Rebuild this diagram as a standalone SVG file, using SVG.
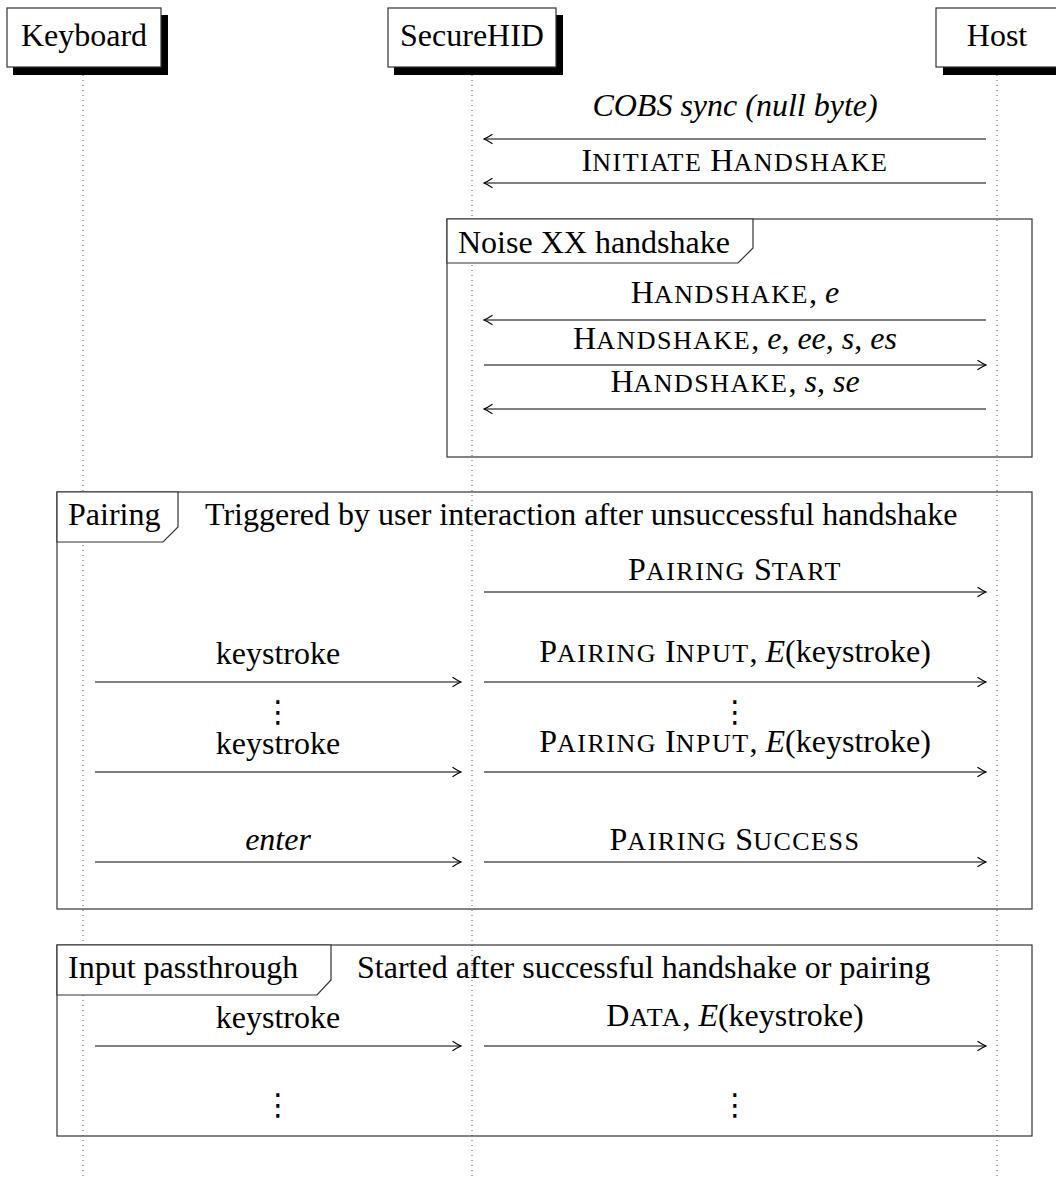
<svg xmlns="http://www.w3.org/2000/svg" width="1056" height="1177" viewBox="0 0 1056 1177">
<style>
  text { font-family: "Liberation Serif", "Times New Roman", serif; font-size: 32px; fill: #000; }
  .c { text-anchor: middle; }
  .it { font-style: italic; }
  .sc { font-variant: small-caps; }
  .lc { font-size: 37.1px; letter-spacing: 1.5px; }
  .box { fill: #fff; stroke: #333; stroke-width: 1.2; }
  .shadow { fill: #000; }
  .life { stroke: #555; stroke-width: 1; stroke-dasharray: 1 4; fill: none; }
  .frame { fill: none; stroke: #333; stroke-width: 1.2; }
  .flabel { fill: #fff; stroke: #333; stroke-width: 1.2; }
  .msg { stroke: #000; stroke-width: 1.2; fill: none; marker-end: url(#ah); }
  .dots { font-family: "DejaVu Sans", sans-serif; font-size: 30px; text-anchor: middle; }
</style>
<defs>
  <marker id="ah" markerUnits="userSpaceOnUse" markerWidth="14" markerHeight="14" viewBox="-11 -7 14 14" refX="0" refY="0" orient="auto">
    <path d="M-8.5,-4.8 Q-3,-1.2 0,0 Q-3,1.2 -8.5,4.8" fill="none" stroke="#000" stroke-width="1.1"/>
  </marker>
</defs>
<rect width="1056" height="1177" fill="#fff"/>

<g id="lifelines">
  <line class="life" x1="83" y1="75" x2="83" y2="1177"/>
  <line class="life" x1="472" y1="75" x2="472" y2="1177"/>
  <line class="life" x1="997" y1="75" x2="997" y2="1177"/>
</g>

<g id="node-keyboard">
  <rect class="shadow" x="13" y="15" width="155" height="60"/>
  <rect class="box" x="7" y="8" width="154" height="59"/>
  <text class="c" x="84" y="46">Keyboard</text>
</g>
<g id="node-securehid">
  <rect class="shadow" x="394" y="15" width="169" height="60"/>
  <rect class="box" x="388" y="8" width="168" height="59"/>
  <text class="c" x="472" y="46">SecureHID</text>
</g>
<g id="node-host">
  <rect class="shadow" x="943" y="15" width="130" height="60"/>
  <rect class="box" x="936" y="8" width="130" height="59"/>
  <text class="c" x="997" y="46">Host</text>
</g>

<g id="frame-noise">
  <rect class="frame" x="447" y="219" width="585" height="238"/>
  <path class="flabel" d="M447,219 H753 V248 L738,263 H447 Z"/>
  <text x="458" y="253">Noise XX handshake</text>
</g>
<g id="frame-pairing">
  <rect class="frame" x="57" y="492" width="975" height="417"/>
  <path class="flabel" d="M57,492 H178 V527 L163,542 H57 Z"/>
  <text x="68" y="525">Pairing</text>
  <text x="205" y="525">Triggered by user interaction after unsuccessful handshake</text>
</g>
<g id="frame-passthrough">
  <rect class="frame" x="57" y="945" width="975" height="191"/>
  <path class="flabel" d="M57,945 H331 V980 L317,995 H57 Z"/>
  <text x="68" y="978">Input passthrough</text>
  <text x="357" y="978">Started after successful handshake or pairing</text>
</g>

<g id="connectors">
  <g id="m1">
    <line class="msg" x1="986" y1="139" x2="484" y2="139"/>
    <text class="c it" x="735" y="116">COBS sync (null byte)</text>
  </g>
  <g id="m2">
    <line class="msg" x1="986" y1="183" x2="484" y2="183"/>
    <text class="c sc" x="735" y="171">I<tspan class="lc">nitiate</tspan> H<tspan class="lc">andshake</tspan></text>
  </g>
  <g id="m3">
    <line class="msg" x1="986" y1="320" x2="484" y2="320"/>
    <text class="c" x="735" y="303"><tspan class="sc">H<tspan class="lc">andshake</tspan></tspan>, <tspan class="it">e</tspan></text>
  </g>
  <g id="m4">
    <line class="msg" x1="484" y1="365" x2="986" y2="365"/>
    <text class="c" x="735" y="349"><tspan class="sc">H<tspan class="lc">andshake</tspan></tspan>, <tspan class="it">e</tspan>, <tspan class="it">ee</tspan>, <tspan class="it">s</tspan>, <tspan class="it">es</tspan></text>
  </g>
  <g id="m5">
    <line class="msg" x1="986" y1="409" x2="484" y2="409"/>
    <text class="c" x="735" y="392"><tspan class="sc">H<tspan class="lc">andshake</tspan></tspan>, <tspan class="it">s</tspan>, <tspan class="it">se</tspan></text>
  </g>
  <g id="m6">
    <line class="msg" x1="484" y1="592" x2="986" y2="592"/>
    <text class="c sc" x="735" y="580">P<tspan class="lc">airing</tspan> S<tspan class="lc">tart</tspan></text>
  </g>
  <g id="m7">
    <line class="msg" x1="95" y1="682" x2="461" y2="682"/>
    <text class="c" x="278" y="664">keystroke</text>
  </g>
  <g id="m8">
    <line class="msg" x1="484" y1="682" x2="986" y2="682"/>
    <text class="c" x="735" y="662"><tspan class="sc">P<tspan class="lc">airing</tspan> I<tspan class="lc">nput</tspan></tspan>, <tspan class="it">E</tspan>(keystroke)</text>
  </g>
  <text class="dots" x="278" y="722">⋮</text>
  <text class="dots" x="735" y="722">⋮</text>
  <g id="m9">
    <line class="msg" x1="95" y1="772" x2="461" y2="772"/>
    <text class="c" x="278" y="754">keystroke</text>
  </g>
  <g id="m10">
    <line class="msg" x1="484" y1="772" x2="986" y2="772"/>
    <text class="c" x="735" y="752"><tspan class="sc">P<tspan class="lc">airing</tspan> I<tspan class="lc">nput</tspan></tspan>, <tspan class="it">E</tspan>(keystroke)</text>
  </g>
  <g id="m11">
    <line class="msg" x1="95" y1="862" x2="461" y2="862"/>
    <text class="c it" x="278" y="850">enter</text>
  </g>
  <g id="m12">
    <line class="msg" x1="484" y1="862" x2="986" y2="862"/>
    <text class="c sc" x="735" y="850">P<tspan class="lc">airing</tspan> S<tspan class="lc">uccess</tspan></text>
  </g>
  <g id="m13">
    <line class="msg" x1="95" y1="1046" x2="461" y2="1046"/>
    <text class="c" x="278" y="1028">keystroke</text>
  </g>
  <g id="m14">
    <line class="msg" x1="484" y1="1046" x2="986" y2="1046"/>
    <text class="c" x="735" y="1026"><tspan class="sc">D<tspan class="lc">ata</tspan></tspan>, <tspan class="it">E</tspan>(keystroke)</text>
  </g>
  <text class="dots" x="278" y="1115">⋮</text>
  <text class="dots" x="735" y="1115">⋮</text>
</g>
</svg>
